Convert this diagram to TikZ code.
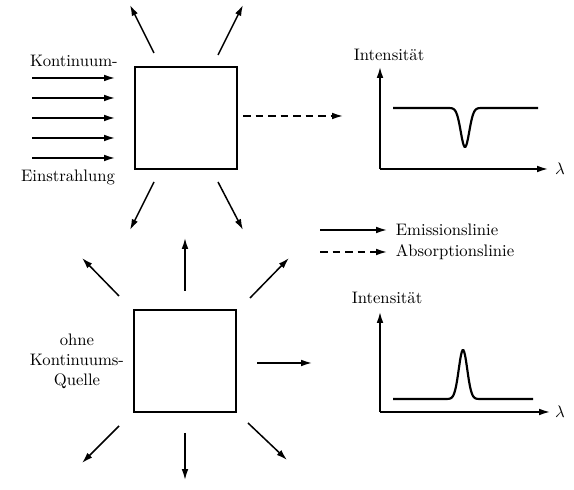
\documentclass[tikz,border=0pt]{standalone}
\usepackage{amsmath}
\usetikzlibrary{arrows.meta}

\begin{document}
\begin{tikzpicture}[x=0.6pt,y=-0.6pt,
  pfeil/.style={line width=0.9pt,-{Latex[length=6.5pt,width=4pt]}},
  gestrichelt/.style={pfeil,dash pattern=on 4.5pt off 3pt},
  wolke/.style={draw,line width=0.9pt,minimum size=61pt,inner sep=0pt},
  kurve/.style={line width=1.3pt}]
\useasboundingbox (0,0) rectangle (574,490);

% oben: mit Kontinuum
\node[wolke] (w1) at (186,118) {};
\node (k1) at (74,61) {Kontinuum-};
\node (k2) at (68,177) {Einstrahlung};
\foreach \y/\n in {78/1,98/2,118/3,138/4,158/5}{
  \coordinate (e\n) at (32,\y);
  \coordinate (f\n) at (115,\y);
  \draw[pfeil] (e\n) -- (f\n);
}

\coordinate (a1) at (154,53);  \coordinate (b1) at (130,5);
\coordinate (a2) at (218,55);  \coordinate (b2) at (243,5);
\coordinate (a3) at (154,182); \coordinate (b3) at (130,230);
\coordinate (a4) at (218,182); \coordinate (b4) at (243,230);
\foreach \n in {1,...,4}
  \draw[pfeil] (a\n) -- (b\n);

\coordinate (d1) at (243,116);
\coordinate (d2) at (343,116);
\draw[gestrichelt] (d1) -- (d2);

% Spektrum 1
\coordinate (o1) at (380,169);
\coordinate (y1) at (380,67);
\coordinate (x1) at (548,169);
\draw[pfeil] (o1) -- (y1);
\draw[pfeil] (o1) -- (x1);
\node (i1) at (389,55) {Intensit\"at};
\node (l1) at (560,169) {$\lambda$};
\draw[kurve] (393,108) -- plot[smooth,domain=445:485,samples=50]
  (\x,{108+39*exp(-(((\x-465)/6)^2))}) -- (538,108);

% Legende
\coordinate (g1) at (320,230); \coordinate (g2) at (387,230);
\coordinate (g3) at (320,252); \coordinate (g4) at (387,252);
\draw[pfeil] (g1) -- (g2);
\draw[gestrichelt] (g3) -- (g4);
\node[anchor=west] (em) at (390,230) {Emissionslinie};
\node[anchor=west] (ab) at (390,252) {Absorptionslinie};

% unten: ohne Kontinuum
\node[wolke] (w2) at (185,361) {};
\node[align=center] (q) at (77,361) {ohne\\Kontinuums-\\Quelle};

\coordinate (c1) at (185,291); \coordinate (h1) at (185,238);
\coordinate (c2) at (119,296); \coordinate (h2) at (82,258);
\coordinate (c3) at (250,298); \coordinate (h3) at (289,258);
\coordinate (c4) at (257,363); \coordinate (h4) at (312,363);
\coordinate (c5) at (119,426); \coordinate (h5) at (82,463);
\coordinate (c6) at (185,433); \coordinate (h6) at (185,480);
\coordinate (c7) at (248,423); \coordinate (h7) at (287,460);
\foreach \n in {1,...,7}
  \draw[pfeil] (c\n) -- (h\n);

% Spektrum 2
\coordinate (o2) at (380,412);
\coordinate (y2) at (380,312);
\coordinate (x2) at (550,412);
\draw[pfeil] (o2) -- (y2);
\draw[pfeil] (o2) -- (x2);
\node (i2) at (387,298) {Intensit\"at};
\node (l2) at (560,412) {$\lambda$};
\draw[kurve] (393,399) -- plot[smooth,domain=443:483,samples=50]
  (\x,{399-49*exp(-(((\x-463)/6)^2))}) -- (533,399);
\end{tikzpicture}
\end{document}
